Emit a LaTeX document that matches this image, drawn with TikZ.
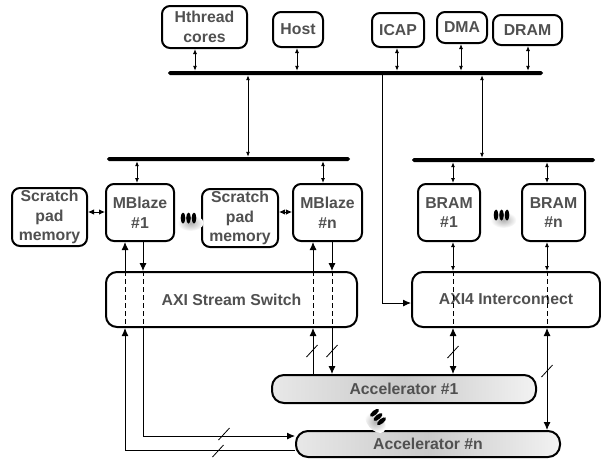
\documentclass[tikz,border=0pt]{standalone}
\usepackage{fontspec}
\setmainfont{Liberation Sans}
\usetikzlibrary{arrows.meta,calc}
\definecolor{txtgray}{HTML}{505050}
\newcommand\boxfont{\bfseries\fontsize{15.8}{19.8}\selectfont}
\tikzset{
  box/.style={draw, line width=2pt, rounded corners=8pt, inner sep=0pt, align=center, text=txtgray, font=\boxfont},
  bigbox/.style={box, rounded corners=11pt},
  accbox/.style={box, rounded corners=12pt, left color=gray!18, right color=gray!10, middle color=gray!42},
  bus/.style={fill=black, inner sep=0pt, minimum height=4pt, rounded corners=1.8pt},
  conn/.style={line width=0.9pt},
  dashconn/.style={conn, dash pattern=on 5pt off 3pt},
  sarr/.style={conn, {Latex[length=5pt,width=4pt]}-{Latex[length=5pt,width=4pt]}},
  marr/.style={conn, {Latex[length=6pt,width=5.5pt]}-{Latex[length=6pt,width=5.5pt]}},
  barr/.style={conn, -{Latex[length=8pt,width=7pt]}},
  bdarr/.style={conn, {Latex[length=8pt,width=7pt]}-{Latex[length=8pt,width=7pt]}},
  slashmark/.pic={\draw[line width=0.8pt] (-5.5,6) -- (5.5,-6);},
  ellipsedots/.pic={
    \shade[inner color=gray!60, outer color=white] (2,5) ellipse (13 and 8);
    \fill (-5.5,0) ellipse (2.3 and 5.5);
    \fill (0,0) ellipse (2.3 and 5.5);
    \fill (5.5,0) ellipse (2.3 and 5.5);
  }
}
\begin{document}
\begin{tikzpicture}[x=1pt,y=-1pt]
\useasboundingbox (0,0) rectangle (601,459);

% helper coordinates (x positions of vertical connectors, y positions of horizontal ones)
\coordinate (x125) at (125,0);
\coordinate (x137) at (137,0);
\coordinate (x143) at (143,0);
\coordinate (x195) at (195,0);
\coordinate (x248) at (248,0);
\coordinate (x297) at (297,0);
\coordinate (x313) at (313,0);
\coordinate (x323) at (323,0);
\coordinate (x332) at (332,0);
\coordinate (x382) at (382,0);
\coordinate (x397) at (397,0);
\coordinate (x453) at (453,0);
\coordinate (x461) at (461,0);
\coordinate (x482) at (482,0);
\coordinate (x528) at (528,0);
\coordinate (x547) at (547,0);
\coordinate (y212) at (0,212);
\coordinate (y303) at (0,303);
\coordinate (y436) at (0,436);
\coordinate (y450) at (0,450);

% top row
\node[box, minimum width=85, minimum height=42] (hthread) at (204.5,27) {Hthread\\cores};
\node[box, minimum width=50, minimum height=35] (host) at (298,29.5) {Host};
\node[box, minimum width=52, minimum height=34] (icap) at (398,30) {ICAP};
\node[box, minimum width=50, minimum height=31] (dma) at (462,27.5) {DMA};
\node[box, minimum width=69, minimum height=30] (dram) at (527.5,30) {DRAM};

% buses
\node[bus, minimum width=375] (topbus) at (355.5,73) {};
\node[bus, minimum width=243] (leftbus) at (228.5,159) {};
\node[bus, minimum width=183] (rightbus) at (503.5,160) {};

% middle row
\node[box, minimum width=75, minimum height=58] (sp1) at (49.5,217) {Scratch\\pad\\memory};
\node[box, minimum width=68, minimum height=57] (mb1) at (140,212.5) {MBlaze\\\#1};
\node[box, minimum width=76, minimum height=58] (sp2) at (240,218) {Scratch\\pad\\memory};
\node[box, minimum width=69, minimum height=57] (mbn) at (327.5,212.5) {MBlaze\\\#n};
\node[box, minimum width=62, minimum height=57] (bram1) at (449,212.5) {BRAM\\\#1};
\node[box, minimum width=63, minimum height=57] (bramn) at (553.5,212.5) {BRAM\\\#n};

% interconnects
\node[bigbox, minimum width=251, minimum height=55] (switch) at (231.5,299.5) {AXI Stream Switch};
\node[bigbox, minimum width=188, minimum height=55] (inter) at (506,299.5) {AXI4 Interconnect};

% accelerators
\node[accbox, minimum width=264, minimum height=28] (acc1) at (404,389) {Accelerator \#1};
\node[accbox, minimum width=264, minimum height=26] (accn) at (428,444) {Accelerator \#n};

% ellipsis marks
\pic at (188.5,218) {ellipsedots};
\pic at (501.5,215) {ellipsedots};
\pic[rotate=-50] at (378,417) {ellipsedots};

% top bus connections
\draw[sarr] (hthread.south -| x195) -- (topbus.north -| x195);
\draw[sarr] (host.south -| x297) -- (topbus.north -| x297);
\draw[sarr] (icap.south -| x397) -- (topbus.north -| x397);
\draw[sarr] (dma.south -| x461) -- (topbus.north -| x461);
\draw[sarr] (dram.south -| x528) -- (topbus.north -| x528);
\draw[sarr] (topbus.south -| x248) -- (leftbus.north -| x248);
\draw[sarr] (topbus.south -| x482) -- (rightbus.north -| x482);
\draw[barr] (topbus.south -| x382) |- (inter.west |- y303);

% local buses
\draw[sarr] (leftbus.south -| x137) -- (mb1.north -| x137);
\draw[sarr] (leftbus.south -| x323) -- (mbn.north -| x323);
\draw[sarr] (rightbus.south -| x453) -- (bram1.north -| x453);
\draw[sarr] (rightbus.south -| x547) -- (bramn.north -| x547);

% scratch pads
\draw[marr] (sp1.east |- y212) -- (mb1.west |- y212);
\draw[marr] (sp2.east |- y212) -- (mbn.west |- y212);

% MBlaze #1 <-> stream switch <-> accelerator #n
\draw[barr] (switch.north -| x125) -- (mb1.south -| x125);
\draw[dashconn] (switch.north -| x125) -- (switch.south -| x125);
\draw[barr] (accn.west |- y450) -| (switch.south -| x125);
\draw[barr] (mb1.south -| x143) -- (switch.north -| x143);
\draw[dashconn] (switch.north -| x143) -- (switch.south -| x143);
\draw[barr] (switch.south -| x143) |- (accn.west |- y436);
\pic at (224,434) {slashmark};
\pic at (218,451) {slashmark};

% MBlaze #n <-> stream switch <-> accelerator #1
\draw[barr] (switch.north -| x313) -- (mbn.south -| x313);
\draw[dashconn] (switch.north -| x313) -- (switch.south -| x313);
\draw[barr] (acc1.north -| x313) -- (switch.south -| x313);
\draw[barr] (mbn.south -| x332) -- (switch.north -| x332);
\draw[dashconn] (switch.north -| x332) -- (switch.south -| x332);
\draw[barr] (switch.south -| x332) -- (acc1.north -| x332);
\pic at (312,351) {slashmark};
\pic at (332,351) {slashmark};

% BRAMs <-> AXI4 interconnect <-> accelerators
\draw[sarr] (bram1.south -| x453) -- (inter.north -| x453);
\draw[dashconn] (inter.north -| x453) -- (inter.south -| x453);
\draw[bdarr] (inter.south -| x453) -- (acc1.north -| x453);
\pic at (453,352) {slashmark};
\draw[sarr] (bramn.south -| x547) -- (inter.north -| x547);
\draw[dashconn] (inter.north -| x547) -- (inter.south -| x547);
\draw[bdarr] (inter.south -| x547) -- (accn.north -| x547);
\pic at (547,371) {slashmark};
\end{tikzpicture}
\end{document}
